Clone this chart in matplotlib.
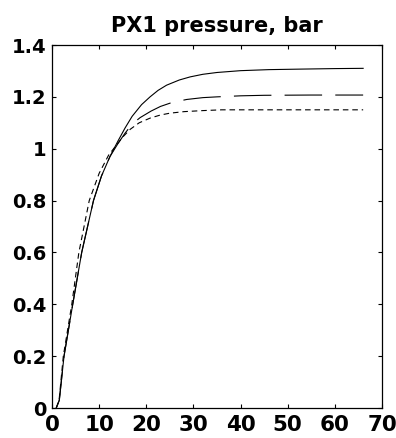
import matplotlib
matplotlib.use("Agg")
import matplotlib.pyplot as plt

# Time axis (s) and PX1 pressure responses (bar) for three cases
t_solid = [0.9, 1.55, 2.55, 4.4, 6.3, 8.8, 10.5, 12.3, 14.0, 15.5, 17.0, 19.0, 20.8, 22.5, 24.3, 27.0,
           29.3, 32.0, 35.0, 40.0, 46.0, 52.7, 60.0, 66.0]
p_solid = [0.0, 0.03, 0.20, 0.40, 0.60, 0.80, 0.895, 0.97, 1.03, 1.08, 1.125, 1.17, 1.20, 1.225, 1.245,
           1.265, 1.277, 1.287, 1.294, 1.301, 1.305, 1.307, 1.309, 1.31]

t_long = [0.9, 1.55, 2.55, 4.4, 6.3, 8.8, 10.5, 12.3, 14.0, 15.5, 17.0, 18.7, 21.0, 23.0, 25.4, 28.6,
          32.0, 35.0, 40.0, 45.0, 55.0, 66.0]
p_long = [0.0, 0.03, 0.20, 0.40, 0.60, 0.80, 0.895, 0.97, 1.02, 1.06, 1.095, 1.12, 1.145, 1.163, 1.178,
          1.19, 1.197, 1.20, 1.204, 1.206, 1.207, 1.207]

t_short = [0.9, 1.5, 2.4, 4.2, 5.7, 7.9, 10.0, 12.0, 13.5, 15.0, 16.6, 18.5, 20.8, 23.0, 25.0, 28.0,
           32.0, 36.0, 45.0, 55.0, 66.0]
p_short = [0.0, 0.03, 0.20, 0.40, 0.60, 0.80, 0.905, 0.975, 1.01, 1.045, 1.075, 1.10, 1.118, 1.13,
           1.137, 1.143, 1.147, 1.15, 1.15, 1.15, 1.15]

x_ticks = [0, 10, 20, 30, 40, 50, 60, 70]
y_ticks = [0, 0.2, 0.4, 0.6, 0.8, 1.0, 1.2, 1.4]
y_labels = ["0", "0.2", "0.4", "0.6", "0.8", "1", "1.2", "1.4"]
title = "PX1 pressure, bar"

plt.rcParams["font.family"] = ["DejaVu Sans"]
plt.rcParams["lines.scale_dashes"] = False

fig = plt.figure(figsize=(3.96, 4.38), dpi=100)
ax = fig.add_axes([52 / 396, 30 / 438, 330 / 396, 363 / 438])

ax.plot(t_solid, p_solid, color="black", lw=0.8, solid_joinstyle="round")
ax.plot(t_long, p_long, color="black", lw=0.8, dashes=(27, 9.5))
ax.plot(t_short, p_short, color="black", lw=0.8, dashes=(4, 2.8))

ax.set_xlim(0, 70)
ax.set_ylim(0, 1.4)
ax.set_xticks(x_ticks)
ax.set_yticks(y_ticks)
ax.set_yticklabels(y_labels)

ax.tick_params(direction="in", length=3, width=0.8, top=True, right=True)
ax.tick_params(axis="x", labelsize=15.5, pad=5)
ax.tick_params(axis="y", labelsize=14, pad=4)
for lab in ax.get_xticklabels() + ax.get_yticklabels():
    lab.set_fontweight("bold")
for sp in ax.spines.values():
    sp.set_linewidth(0.9)

ax.set_title(title, fontsize=15, fontweight="bold", pad=9)

fig.savefig("out.png", dpi=100)
